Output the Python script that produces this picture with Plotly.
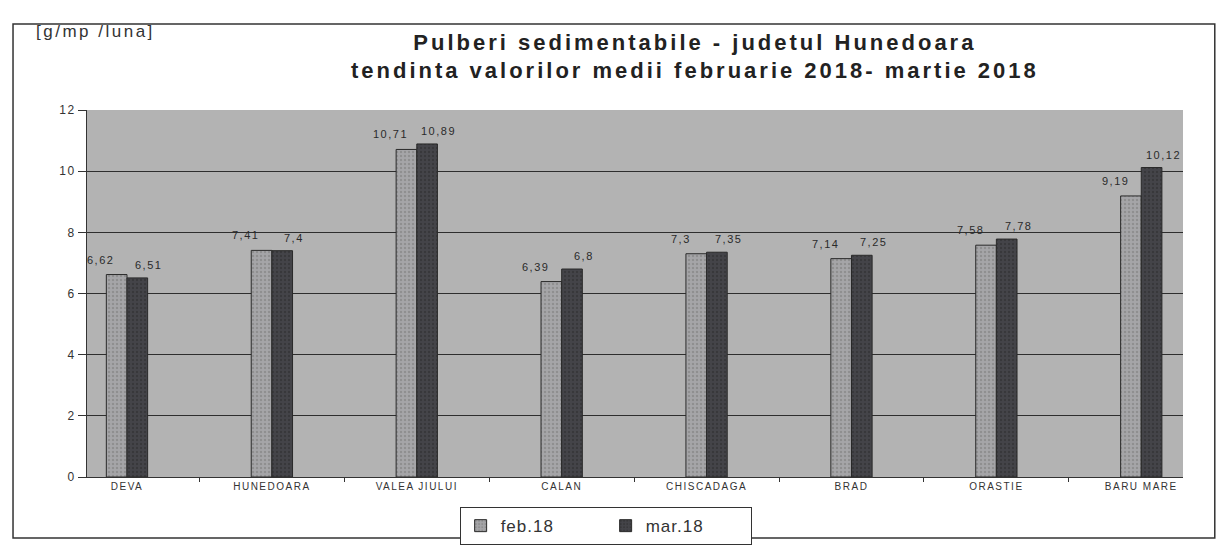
import plotly.graph_objects as go

categories = ["DEVA", "HUNEDOARA", "VALEA JIULUI", "CALAN", "CHISCADAGA", "BRAD", "ORASTIE", "BARU MARE"]
feb18 = [6.62, 7.41, 10.71, 6.39, 7.3, 7.14, 7.58, 9.19]
mar18 = [6.51, 7.4, 10.89, 6.8, 7.35, 7.25, 7.78, 10.12]
y_ticks = [0, 2, 4, 6, 8, 10, 12]


def spaced(t, px):
    return '<span style="letter-spacing:%spx">%s</span>' % (px, t)


def fmt(v):
    return ("%g" % v).replace(".", ",")


fig = go.Figure()
fig.add_trace(go.Bar(
    name=spaced("feb.18", 1), x=categories, y=feb18,
    marker=dict(color="#a5a5a8", line=dict(color="#2a2a2a", width=1),
                pattern=dict(shape=".", fgcolor="#777777", size=4, solidity=0.3)),
))
fig.add_trace(go.Bar(
    name=spaced("mar.18", 1), x=categories, y=mar18,
    marker=dict(color="#444449", line=dict(color="#2a2a2a", width=1),
                pattern=dict(shape=".", fgcolor="#2c2c2c", size=4, solidity=0.3)),
))

label_font = dict(family="Arial", size=11, color="#2a2a2a")
annotations = []
for c, v in zip(categories, feb18):
    annotations.append(dict(x=c, y=v, xref="x", yref="y", text=spaced(fmt(v), 1.5),
                            showarrow=False, xshift=-26, yshift=15, font=label_font))
for c, v in zip(categories, mar18):
    annotations.append(dict(x=c, y=v, xref="x", yref="y", text=spaced(fmt(v), 1.5),
                            showarrow=False, xshift=22, yshift=13, font=label_font))
annotations.append(dict(
    text=spaced("[g/mp /luna]", 2.5), xref="paper", yref="paper", x=-0.048, y=1.215,
    xanchor="left", yanchor="middle", showarrow=False,
    font=dict(family="Arial", size=17, color="#333333"),
))

title_text = ("<b>" + spaced("Pulberi sedimentabile - judetul Hunedoara", 3) + "<br>"
              + spaced("tendinta valorilor medii februarie 2018- martie 2018", 3) + "</b>")

fig.update_layout(
    width=1231, height=550,
    margin=dict(l=79, r=56, t=102, b=81),
    paper_bgcolor="white",
    plot_bgcolor="#b3b3b3",
    barmode="group", bargap=0.715, bargroupgap=0,
    font=dict(family="Arial", color="#222222"),
    title=dict(
        text=title_text,
        x=0.558, xanchor="center", y=0.924, yanchor="top",
        font=dict(family="Arial", size=22, color="#222222"),
    ),
    showlegend=True,
    legend=dict(
        orientation="h", x=0.34, xanchor="left", y=-0.082, yanchor="top",
        bordercolor="#333333", borderwidth=1, bgcolor="white",
        font=dict(family="Arial", size=17, color="#333333"),
        itemwidth=30, traceorder="normal", entrywidth=100,
    ),
    xaxis=dict(
        range=[-0.276, 7.288],
        tickvals=categories,
        ticktext=[spaced(c, 1.5) for c in categories],
        showline=True, linecolor="#333333", linewidth=1,
        ticks="outside", tickson="boundaries", ticklen=4, tickcolor="#333333",
        tickfont=dict(family="Arial", size=10, color="#333333"),
        showgrid=False,
    ),
    yaxis=dict(
        range=[0, 12], tickvals=y_ticks,
        ticktext=[spaced(str(v), 1.5) for v in y_ticks],
        showline=True, linecolor="#333333", linewidth=1,
        ticks="outside", ticklen=8, tickcolor="#333333",
        tickfont=dict(family="Arial", size=12, color="#333333"),
        showgrid=True, gridcolor="#2e2e2e", gridwidth=1,
        zeroline=False,
    ),
    annotations=annotations,
    shapes=[dict(
        type="rect", xref="paper", yref="paper", x0=-0.0675, x1=1.029, y0=-0.166, y1=1.234,
        line=dict(color="#333333", width=1.5), layer="below",
    )],
)

fig.write_html("out.html")
